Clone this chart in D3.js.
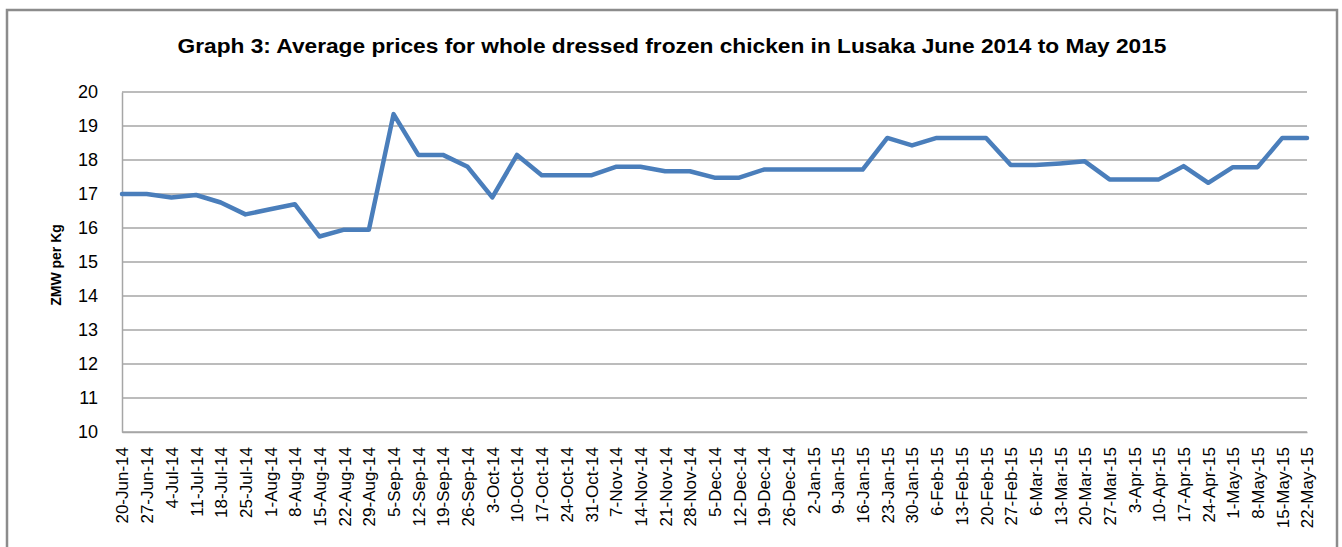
<!DOCTYPE html>
<html>
<head>
<meta charset="utf-8">
<script src="https://cdn.jsdelivr.net/npm/d3@7"></script>
<style>
  body { margin: 0; background: #fff; }
  text { font-family: "Liberation Sans", Arial, sans-serif; fill: #000; }
</style>
</head>
<body>
<div id="chart"></div>
<script>
// weekly dates (x categories)
var dates = ["20-Jun-14","27-Jun-14","4-Jul-14","11-Jul-14","18-Jul-14","25-Jul-14",
  "1-Aug-14","8-Aug-14","15-Aug-14","22-Aug-14","29-Aug-14","5-Sep-14","12-Sep-14",
  "19-Sep-14","26-Sep-14","3-Oct-14","10-Oct-14","17-Oct-14","24-Oct-14","31-Oct-14",
  "7-Nov-14","14-Nov-14","21-Nov-14","28-Nov-14","5-Dec-14","12-Dec-14","19-Dec-14",
  "26-Dec-14","2-Jan-15","9-Jan-15","16-Jan-15","23-Jan-15","30-Jan-15","6-Feb-15",
  "13-Feb-15","20-Feb-15","27-Feb-15","6-Mar-15","13-Mar-15","20-Mar-15","27-Mar-15",
  "3-Apr-15","10-Apr-15","17-Apr-15","24-Apr-15","1-May-15","8-May-15","15-May-15","22-May-15"];

// ZMW per kg
var prices = [17.0, 17.0, 16.9, 16.97, 16.75, 16.4, 16.55, 16.7, 15.75, 15.95, 15.95,
  19.35, 18.15, 18.15, 17.8, 16.9, 18.15, 17.55, 17.55, 17.55, 17.8, 17.8, 17.67, 17.67,
  17.48, 17.48, 17.72, 17.72, 17.72, 17.72, 17.72, 18.65, 18.43, 18.65, 18.65, 18.65,
  17.85, 17.85, 17.9, 17.96, 17.43, 17.43, 17.43, 17.82, 17.33, 17.79, 17.79, 18.65, 18.65];

var yTicks = [10, 11, 12, 13, 14, 15, 16, 17, 18, 19, 20];

var W = 1342, H = 547;
var margin = {top: 92, right: 35, bottom: 115, left: 122},
    width = W - margin.left - margin.right,
    height = H - margin.top - margin.bottom;

var svg = d3.select("#chart")
    .append("svg")
    .attr("width", W)
    .attr("height", H);

// outer chart border
svg.append("rect")
    .attr("x", 7).attr("y", 10)
    .attr("width", 1330).attr("height", 560)
    .attr("fill", "#fff")
    .attr("stroke", "#8c8c8c")
    .attr("stroke-width", 2.5);

svg.append("text")
    .attr("x", 672).attr("y", 53)
    .attr("text-anchor", "middle")
    .attr("textLength", 989)
    .attr("lengthAdjust", "spacingAndGlyphs")
    .style("font-size", "20px")
    .style("font-weight", "bold")
    .text("Graph 3: Average prices for whole dressed frozen chicken in Lusaka June 2014 to May 2015");

var g = svg.append("g")
    .attr("transform", "translate(" + margin.left + "," + margin.top + ")");

var x = d3.scalePoint()
    .domain(dates)
    .range([0, width]);

var y = d3.scaleLinear()
    .domain([10, 20])
    .range([height, 0]);

// gridlines
g.append("g")
  .selectAll("line")
  .data(yTicks)
  .enter()
  .append("line")
    .attr("x1", 0).attr("x2", width)
    .attr("y1", function(d) { return y(d); })
    .attr("y2", function(d) { return y(d); })
    .attr("stroke", "#a6a6a6")
    .attr("stroke-width", 1.5);

// axes
var yAxis = g.append("g")
    .call(d3.axisLeft(y).tickValues(yTicks).tickSize(0).tickPadding(24));
yAxis.select(".domain").attr("stroke", "#a6a6a6").attr("stroke-width", 1.5);
yAxis.selectAll("text")
    .style("font-size", "18px")
    .style("font-family", "Liberation Sans, Arial, sans-serif");

var xAxis = g.append("g")
    .attr("transform", "translate(0," + height + ")")
    .call(d3.axisBottom(x).tickSize(0));
xAxis.select(".domain").attr("stroke", "#a6a6a6").attr("stroke-width", 1.5);
xAxis.selectAll("text")
    .style("font-size", "17px")
    .style("font-family", "Liberation Sans, Arial, sans-serif")
    .attr("text-anchor", "end")
    .attr("transform", "rotate(-90)")
    .attr("x", -15)
    .attr("y", 0)
    .attr("dy", "0.35em");

// y-axis title
svg.append("text")
    .attr("transform", "translate(61,265) rotate(-90)")
    .attr("text-anchor", "middle")
    .style("font-size", "14px")
    .style("font-weight", "bold")
    .text("ZMW per Kg");

// price line
var line = d3.line()
    .x(function(d, i) { return x(dates[i]); })
    .y(function(d) { return y(d); });

g.append("path")
    .datum(prices)
    .attr("fill", "none")
    .attr("stroke", "#4a7ebb")
    .attr("stroke-width", 4.5)
    .attr("stroke-linejoin", "round")
    .attr("stroke-linecap", "round")
    .attr("d", line);
</script>
</body>
</html>
